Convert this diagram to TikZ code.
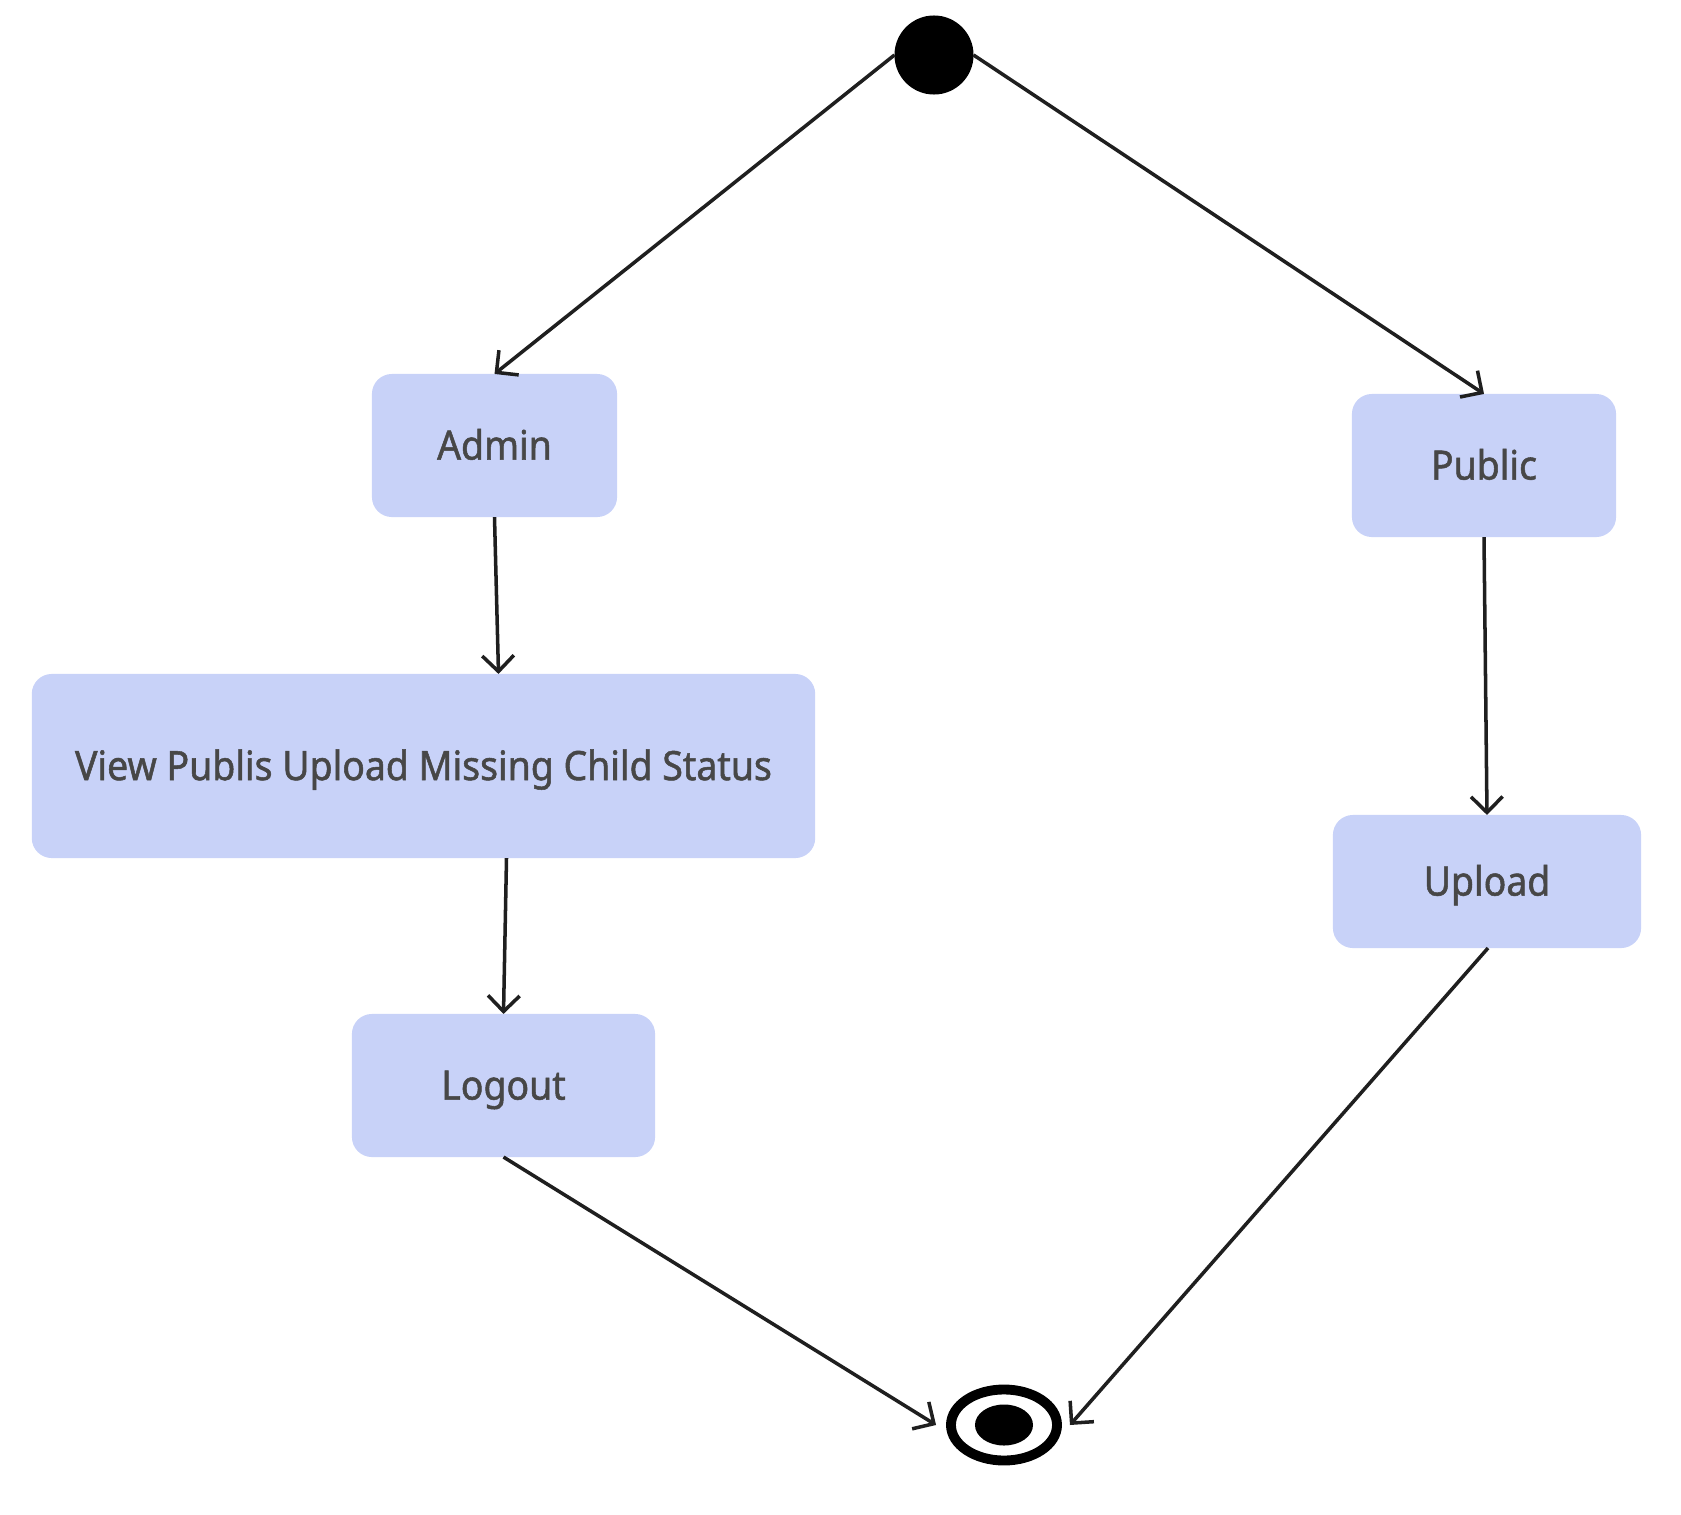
\documentclass[tikz,border=0pt]{standalone}
\usepackage{fontspec}
\setmainfont{Noto Sans}
\newfontfamily\boxfont{Noto Sans}[FakeStretch=0.925,FakeBold=1.3]
\usetikzlibrary{arrows.meta,shapes.geometric}
\definecolor{boxfill}{HTML}{C8D2F8}
\definecolor{boxtext}{HTML}{474747}
\begin{document}
\begin{tikzpicture}[x=0.01cm, y=-0.01cm,
    state/.style={fill=boxfill, rounded corners=0.2cm, inner sep=0pt, outer sep=0pt,
        text=boxtext, text height=8pt, text depth=0pt, font=\boxfont\fontsize{11.5}{14}\selectfont},
    flow/.style={line width=1pt, draw=black!88, -{Straight Barb[length=4.5pt,width=9pt]}}]
        \useasboundingbox (0,0) rectangle (1681,1515);
        \node[circle, fill=black, minimum size=0.79cm, inner sep=0pt, outer sep=0pt] (n1) at (934,55) {};
        \node[state, minimum width=2.45cm, minimum height=1.43cm] (n2) at (494.5,445.5) {Admin};
        \node[state, minimum width=2.64cm, minimum height=1.43cm] (n3) at (1484,465.5) {Public};
        \node[state, minimum width=7.83cm, minimum height=1.84cm] (n4) at (423.5,766) {View Publis Upload Missing Child Status};
        \node[state, minimum width=3.03cm, minimum height=1.43cm] (n5) at (503.5,1085.5) {Logout};
        \node[state, minimum width=3.08cm, minimum height=1.33cm] (n6) at (1487,881.5) {Upload};
        \node[ellipse, draw=black, line width=2.8pt, minimum width=1.06cm, minimum height=0.71cm, inner sep=0pt] (n7) at (1004,1425) {};
        \fill (n7.center) ellipse (0.29cm and 0.205cm);
        \draw[flow] (n1.west) -- (n2.north);
        \draw[flow] (n1.east) -- (n3.north);
        \draw[flow] (n2.south) -- ([xshift=0.04cm]n2.south |- n4.north);
        \draw[flow] ([xshift=0.03cm]n5.north |- n4.south) -- (n5.north);
        \draw[flow] (n3.south) -- ([xshift=0.03cm]n3.south |- n6.north);
        \draw[flow] (n5.south) -- ([xshift=-0.1cm]n7.west);
        \draw[flow] ([xshift=0.01cm]n6.south) -- ([xshift=0.08cm]n7.east);
\end{tikzpicture}
\end{document}
